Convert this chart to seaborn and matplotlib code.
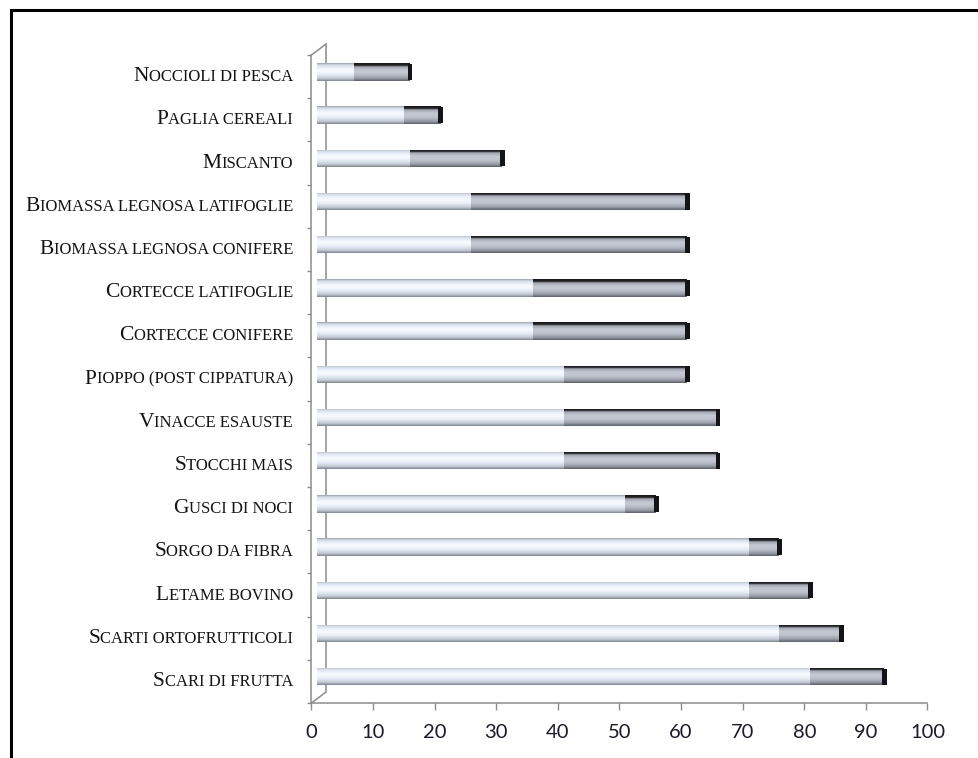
import numpy as np
import pandas as pd
import matplotlib
matplotlib.use("Agg")
import matplotlib.pyplot as plt
import seaborn as sns
from matplotlib.colors import LinearSegmentedColormap
from matplotlib.lines import Line2D
from matplotlib.patches import Rectangle
from matplotlib.offsetbox import TextArea, HPacker, AnnotationBbox

# Biomass types and their value ranges (low / high)
categories = [
    "Noccioli di pesca",
    "Paglia cereali",
    "Miscanto",
    "Biomassa legnosa latifoglie",
    "Biomassa legnosa conifere",
    "Cortecce latifoglie",
    "Cortecce conifere",
    "Pioppo (post cippatura)",
    "Vinacce esauste",
    "Stocchi mais",
    "Gusci di noci",
    "Sorgo da fibra",
    "Letame bovino",
    "Scarti ortofrutticoli",
    "Scari di frutta",
]
range_min = [6, 14, 15, 25, 25, 35, 35, 40, 40, 40, 50, 70, 70, 75, 80]
range_max = [15, 20, 30, 60, 60, 60, 60, 60, 65, 65, 55, 75, 80, 85, 92]
x_ticks = [0, 10, 20, 30, 40, 50, 60, 70, 80, 90, 100]

W, H, DPI = 979, 758, 100
GRAY = "#8c8c8c"
TXT = "#141414"

sns.set_theme(style="white")
plt.rcParams["font.family"] = ["DejaVu Sans"]

fig = plt.figure(figsize=(W / DPI, H / DPI), dpi=DPI)
fig.patch.set_facecolor("white")


def px_axes(left, top, right, bottom, z):
    ax = fig.add_axes([left / W, 1 - bottom / H, (right - left) / W, (bottom - top) / H])
    ax.set_zorder(z)
    ax.patch.set_alpha(0)
    return ax


n = len(categories)
ax_back = px_axes(326, 44, 942, 692, 1)      # back wall of the pseudo-3D frame
ax_bars = px_axes(317, 50.3, 933, 698.3, 2)  # bars sit half-way in depth
ax_front = px_axes(311.5, 55, 927.5, 703, 3) # front axis with ticks and labels

# ---- back wall: only its left edge is visible
for s in ax_back.spines.values():
    s.set_visible(False)
ax_back.spines["left"].set_visible(True)
ax_back.spines["left"].set_color(GRAY)
ax_back.spines["left"].set_linewidth(1.1)
ax_back.set_xticks([])
ax_back.set_yticks([])

# ---- bars
df = pd.DataFrame({"biomassa": categories, "minimo": range_min, "massimo": range_max})
bar_w = 0.40
sns.barplot(data=df, x="massimo", y="biomassa", orient="h", order=categories,
            width=bar_w, color="#b4b8c2", saturation=1, errorbar=None,
            linewidth=0, zorder=2, ax=ax_bars)
sns.barplot(data=df, x="minimo", y="biomassa", orient="h", order=categories,
            width=bar_w, color="#eef2fa", saturation=1, errorbar=None,
            linewidth=0, zorder=3, ax=ax_bars)

dark_cmap = LinearSegmentedColormap.from_list("dark", [
    (0.00, "#18181c"), (0.13, "#26262a"), (0.20, "#a2a6b0"), (0.42, "#c6cad4"),
    (0.62, "#bec2cc"), (0.84, "#9a9ea8"), (1.00, "#5c6068")])
light_cmap = LinearSegmentedColormap.from_list("light", [
    (0.00, "#9aa0aa"), (0.10, "#d4dbe8"), (0.30, "#eff4fd"), (0.45, "#f8fbff"),
    (0.66, "#e4eaf4"), (0.86, "#c2c8d2"), (1.00, "#80868f")])
rows = np.linspace(0, 1, 64)
grad_dark = dark_cmap(rows)[:, None, :]
grad_light = light_cmap(rows)[:, None, :]

for k, p in enumerate(list(ax_bars.patches)):
    x0, y0, w, h = p.get_x(), p.get_y(), p.get_width(), p.get_height()
    grad = grad_dark if k < n else grad_light
    im = ax_bars.imshow(grad, extent=(x0, x0 + w, y0 + h, y0), aspect="auto",
                        interpolation="bilinear", origin="upper",
                        zorder=p.get_zorder() + 0.05)
    im.set_clip_path(p)
    p.set_facecolor("none")

# dark rounded end cap of each cylinder (the end face bulges slightly past the value)
cap_in, cap_out = 0.3, 0.5
ax_bars.barh(np.arange(n), [cap_in + cap_out] * n, left=np.array(range_max) - cap_in,
             height=bar_w * 0.94, color="#141418", linewidth=0, zorder=4)

ax_bars.set_xlim(0, 100)
ax_bars.set_ylim(n - 0.5, -0.5)
ax_bars.set_axis_off()

# ---- front axis
ax_front.set_xlim(0, 100)
ax_front.set_ylim(n - 0.5, -0.5)
for side in ("top", "right"):
    ax_front.spines[side].set_visible(False)
for side in ("left", "bottom"):
    ax_front.spines[side].set_color(GRAY)
    ax_front.spines[side].set_linewidth(1.1)
ax_front.set_xticks(x_ticks)
ax_front.set_xticklabels([str(t) for t in x_ticks], family="Lato", fontsize=14.5, color="#1a1a28")
ax_front.tick_params(axis="x", direction="out", length=5, width=1, color=GRAY, pad=10, bottom=True)
ax_front.set_yticks(np.arange(n))
ax_front.set_yticklabels([])
ax_front.set_yticks(np.arange(n + 1) - 0.5, minor=True)
ax_front.tick_params(axis="y", which="major", length=0, left=False)
ax_front.tick_params(axis="y", which="minor", direction="out", length=3, width=1, color=GRAY, left=True)

# small-caps category labels
label_x = (293 - 311.5) / (927.5 - 311.5)
for i, name in enumerate(categories):
    big = TextArea(name[0].upper(), textprops=dict(fontsize=15.5, family="Liberation Serif", color=TXT))
    small = TextArea(name[1:].upper(), textprops=dict(fontsize=12, family="Liberation Serif", color=TXT))
    box = HPacker(children=[big, small], align="baseline", pad=0, sep=0)
    ab = AnnotationBbox(box, xy=(label_x, i), xycoords=ax_front.get_yaxis_transform(),
                        box_alignment=(1.0, 0.5), frameon=False, pad=0,
                        annotation_clip=False)
    ax_front.add_artist(ab)

# depth edges joining front and back walls
for (xa, ya), (xb, yb) in [((311.5, 703), (326, 692)), ((311.5, 55), (326, 44))]:
    fig.add_artist(Line2D([xa / W, xb / W], [1 - ya / H, 1 - yb / H],
                          transform=fig.transFigure, color=GRAY, lw=1.1))

# outer frame
fig.add_artist(Rectangle((11 / W, -0.2), 2.0, 1.2 - 10 / H, transform=fig.transFigure,
                         fill=False, edgecolor="black", lw=2.2))

fig.savefig("out.png", dpi=DPI, facecolor="white")
